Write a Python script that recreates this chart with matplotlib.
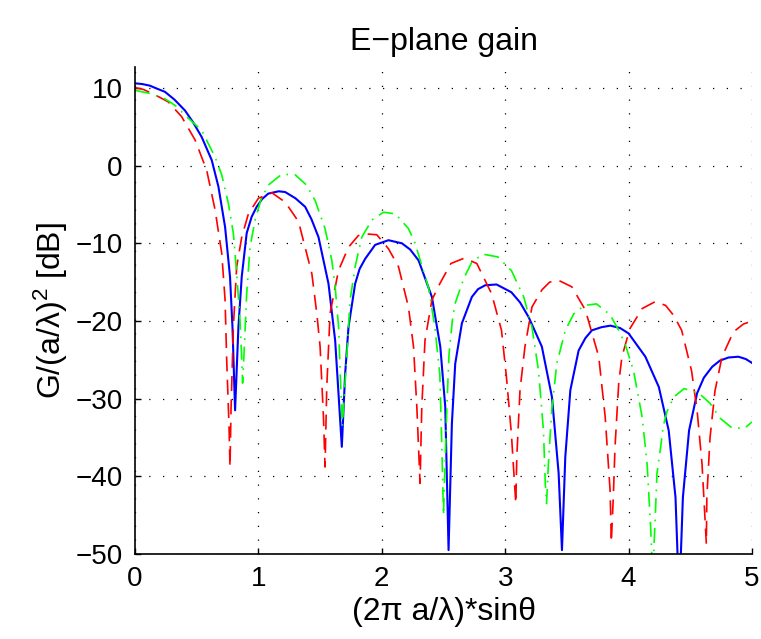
import matplotlib
matplotlib.use("Agg")
import matplotlib.pyplot as plt

plt.rcParams['font.family'] = ['Liberation Sans', 'DejaVu Sans']
plt.rcParams['mathtext.default'] = 'regular'

title = "E\u2212plane gain"
xlabel = "(2\u03c0 a/\u03bb)*sin\u03b8"
ylabel = "G/(a/\u03bb)$^2$ [dB]"
xticks = [0, 1, 2, 3, 4, 5]
yticks = [-50, -40, -30, -20, -10, 0, 10]
ytick_labels = ["\u221250", "\u221240", "\u221230", "\u221220", "\u221210", "0", "10"]

blue_x = [0, 0.06, 0.12, 0.18, 0.243, 0.32, 0.405, 0.47, 0.54, 0.622, 0.676, 0.73, 0.77, 0.79,
          0.811, 0.838, 0.865, 0.905, 0.945, 0.986, 1.03, 1.08, 1.165, 1.217, 1.30, 1.379,
          1.43, 1.487, 1.568, 1.622, 1.649, 1.676, 1.703, 1.73, 1.784, 1.82, 1.865, 1.946,
          2.054, 2.163, 2.23, 2.298, 2.406, 2.474, 2.514, 2.541, 2.568, 2.595, 2.649, 2.73,
          2.78, 2.838, 2.93, 3.05, 3.12, 3.19, 3.297, 3.379, 3.433, 3.46, 3.487, 3.528, 3.595,
          3.65, 3.703, 3.78, 3.852, 3.93, 4.0, 4.136, 4.245, 4.325, 4.38, 4.41, 4.44, 4.49,
          4.555, 4.61, 4.677, 4.74, 4.81, 4.89, 4.95, 5.0]
blue_y = [10.6, 10.5, 10.3, 9.9, 9.5, 8.5, 7.1, 5.6, 3.7, 0.7, -2.7, -7.9, -14.3, -20.8,
          -31.5, -20.8, -14.3, -8.7, -6.6, -5.3, -4.3, -3.6, -3.3, -3.4, -4.2, -5.3,
          -6.9, -9.2, -15.2, -22.5, -29.3, -36.2, -26.8, -20.8, -15.2, -13.3, -12.0, -10.2,
          -9.6, -10.0, -10.8, -12.2, -16.9, -23.3, -31.0, -49.5, -33.2, -25.5, -20.3, -16.9,
          -15.9, -15.4, -15.3, -16.3, -17.6, -19.5, -23.3, -29.8, -39.6, -49.5, -37.5, -28.9, -23.8,
          -22.2, -21.2, -20.8, -20.6, -20.9, -21.6, -24.6, -28.5, -34.1, -42.7, -56.0, -42.7, -34.1,
          -29.3, -27.3, -25.9, -25.1, -24.7, -24.6, -24.9, -25.4]

red_x = [0, 0.07, 0.135, 0.2, 0.27, 0.378, 0.487, 0.581, 0.649, 0.703, 0.73, 0.743, 0.762, 0.77,
         0.778, 0.797, 0.824, 0.865, 0.919, 1.0, 1.11, 1.217, 1.325, 1.433, 1.473, 1.50, 1.527,
         1.54, 1.554, 1.581, 1.649, 1.73, 1.81, 1.88, 1.96, 2.054, 2.135, 2.216, 2.257, 2.284,
         2.31, 2.324, 2.35, 2.406, 2.47, 2.56, 2.67, 2.77, 2.89, 2.97, 3.01, 3.05, 3.086, 3.094,
         3.12, 3.16, 3.217, 3.297, 3.36, 3.43, 3.54, 3.65, 3.758, 3.81, 3.85, 3.86, 3.876, 3.89,
         3.92, 3.946, 4.01, 4.11, 4.217, 4.3, 4.366, 4.43, 4.51, 4.555, 4.595, 4.62, 4.63, 4.634,
         4.66, 4.70, 4.757, 4.85, 4.93, 5.0]
red_y = [10.05, 9.8, 9.3, 8.8, 8.2, 6.3, 3.3, -0.6, -5.7, -11.3, -17.3, -25.0, -33.6, -38.8,
         -31.5, -20.8, -13.0, -9.2, -6.2, -4.2, -3.5, -4.7, -7.2, -13.9, -19.0, -23.3, -32.3,
         -38.8, -28.5, -19.0, -13.5, -10.5, -9.0, -8.8, -8.9, -10.7, -13.0, -18.2, -23.3, -31.1,
         -40.9, -31.1, -22.5, -17.3, -15.2, -12.6, -11.9, -12.6, -16.5, -21.2, -27.2, -34.5, -43.5,
         -37.5, -28.9, -23.3, -18.2, -16.0, -15.0, -14.75, -15.6, -18.6, -24.6, -32.3, -41.8,
         -48.5, -42.7, -36.2, -28.0, -24.6, -21.0, -18.4, -17.5, -18.0, -19.3, -21.2, -26.4,
         -31.5, -38.4, -45.7, -48.7, -42.7, -35.0, -29.0, -24.6, -21.4, -20.4, -20.0]

green_x = [0, 0.12, 0.243, 0.33, 0.405, 0.54, 0.649, 0.703, 0.757, 0.797, 0.824, 0.851, 0.865,
           0.872, 0.89, 0.905, 0.932, 0.973, 1.02, 1.08, 1.19, 1.30, 1.39, 1.46, 1.54, 1.595,
           1.622, 1.65, 1.663, 1.68, 1.716, 1.743, 1.784, 1.838, 1.92, 2.013, 2.11, 2.216, 2.27,
           2.38, 2.43, 2.47, 2.485, 2.50, 2.527, 2.545, 2.575, 2.595, 2.665, 2.73, 2.82, 2.94,
           3.05, 3.15, 3.217, 3.27, 3.31, 3.325, 3.335, 3.35, 3.377, 3.418, 3.487, 3.555, 3.64,
           3.74, 3.85, 3.92, 3.97, 4.04, 4.11, 4.15, 4.18, 4.195, 4.217, 4.23, 4.26, 4.28, 4.31,
           4.366, 4.45, 4.57, 4.66, 4.74, 4.84, 4.94, 5.0]
green_y = [9.7, 9.3, 8.6, 7.7, 6.5, 4.55, 1.1, -1.2, -4.9, -8.7, -13.9, -19.9, -25.0,
           -28.0, -22.0, -16.5, -10.5, -7.0, -4.4, -2.5, -1.1, -1.2, -2.5, -4.5, -8.1, -12.2,
           -15.6, -20.8, -26.8, -33.5, -24.6, -17.3, -13.0, -9.2, -7.0, -6.0, -6.2, -8.1, -10.0,
           -15.8, -20.8, -26.8, -35.3, -45.0, -31.1, -24.2, -19.5, -17.7, -14.5, -12.4, -11.4,
           -11.75, -13.5, -16.9, -20.8, -26.4, -34.1, -41.0, -43.5, -38.4, -31.5, -25.5, -21.2,
           -19.1, -18.0, -17.8, -19.2, -21.2, -22.9, -26.4, -32.4, -38.4, -47.0, -53.0, -44.8,
           -39.6, -36.2, -33.6, -31.7, -29.8, -28.7, -29.3, -30.6, -32.5, -33.8, -33.8, -33.0]

fig = plt.figure(figsize=(7.61, 6.39), dpi=100)
ax = fig.add_axes([135/761, (639-554)/639, (752-135)/761, (554-67)/639])

ax.plot(blue_x, blue_y, color=(0, 0, 1), lw=1.5)
ax.plot(red_x, red_y, color=(1, 0, 0), lw=1.2, dashes=(9, 5))
ax.plot(green_x, green_y, color=(0, 1, 0), lw=1.2, dashes=(9, 4, 1, 4))

ax.set_xlim(0, 5)
ax.set_ylim(-50, 12.7)
ax.set_xticks(xticks)
ax.set_yticks(yticks)
ax.set_yticklabels(ytick_labels)
ax.tick_params(direction='in', length=4, width=1, labelsize=20, pad=9,
               top=False, right=False)
for s in ['top', 'right']:
    ax.spines[s].set_visible(False)
for s in ['left', 'bottom']:
    ax.spines[s].set_linewidth(1.2)
ax.grid(True, color='black', lw=0.9, dashes=(1, 10))

ax.set_title(title, fontsize=23, pad=12)
ax.set_xlabel(xlabel, fontsize=23, labelpad=3)
ax.set_ylabel(ylabel, fontsize=23, labelpad=4)

fig.savefig("out.png", dpi=100)
